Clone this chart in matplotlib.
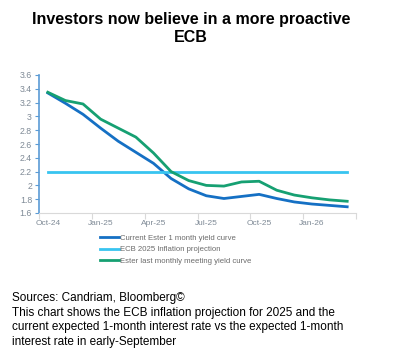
import numpy as np
import matplotlib.pyplot as plt
from matplotlib.ticker import FuncFormatter

plt.rcParams['font.family'] = ['Liberation Sans', 'DejaVu Sans']

# monthly points, Oct-24 .. Mar-26
months = ['Oct-24', 'Nov-24', 'Dec-24', 'Jan-25', 'Feb-25', 'Mar-25',
          'Apr-25', 'May-25', 'Jun-25', 'Jul-25', 'Aug-25', 'Sep-25',
          'Oct-25', 'Nov-25', 'Dec-25', 'Jan-26', 'Feb-26', 'Mar-26']
current_curve = [3.34, 3.19, 3.03, 2.83, 2.64, 2.48, 2.32, 2.10, 1.95,
                 1.85, 1.81, 1.84, 1.87, 1.81, 1.76, 1.73, 1.71, 1.69]
ecb_projection = [2.2] * len(months)
last_meeting_curve = [3.35, 3.23, 3.18, 2.96, 2.83, 2.70, 2.47, 2.20, 2.07,
                      2.00, 1.99, 2.05, 2.06, 1.93, 1.86, 1.82, 1.79, 1.77]
label_months = ['Oct-24', 'Jan-25', 'Apr-25', 'Jul-25', 'Oct-25', 'Jan-26']

BLUE = '#1570c4'
CYAN = '#38c4f0'
GREEN = '#16a072'
TICK_GREY = '#7f8a96'

fig = plt.figure(figsize=(3.98, 3.57), dpi=100)
ax = fig.add_axes([39 / 398, 1 - 213 / 357, 317 / 398, 138 / 357])

x = np.arange(len(months))
ax.plot(x, current_curve, color=BLUE, lw=2.0, label='Current Ester 1 month yield curve')
ax.plot(x, ecb_projection, color=CYAN, lw=2.0, label='ECB 2025 Inflation projection')
ax.plot(x, last_meeting_curve, color=GREEN, lw=2.0, label='Ester last monthly meeting yield curve')

ax.set_xlim(-0.5, len(months) - 0.5)
ax.set_ylim(1.6, 3.6)
ax.set_yticks(np.arange(1.6, 3.61, 0.2))
ax.yaxis.set_major_formatter(FuncFormatter(lambda v, p: f'{v:g}' if abs(v - round(v)) > 1e-6 else f'{int(round(v))}'))

# tick marks at quarter boundaries, labels centred on month
ax.set_xticks(np.arange(-0.5, len(months), 3))
ax.set_xticklabels([])
ax.set_xticks([months.index(m) for m in label_months], minor=True)
ax.set_xticklabels(label_months, minor=True)
ax.tick_params(axis='x', which='major', length=4, color='#d9d9d9', width=0.8)
ax.tick_params(axis='x', which='minor', length=0, pad=5, labelsize=6, labelcolor=TICK_GREY)
ax.tick_params(axis='y', length=3, color='#5b9bd5', width=0.8, labelsize=6.3,
               labelcolor=TICK_GREY, pad=2)

for side in ['top', 'right']:
    ax.spines[side].set_visible(False)
ax.spines['left'].set_color('#5b9bd5')
ax.spines['left'].set_linewidth(1.2)
ax.spines['bottom'].set_color('#d9d9d9')
ax.spines['bottom'].set_linewidth(0.8)

leg = fig.legend(loc='upper left', bbox_to_anchor=(97 / 398, 1 - 231 / 357),
                 frameon=False, fontsize=5.6, handlelength=2.4, handletextpad=0.15,
                 labelspacing=0.55, borderaxespad=0)
for t in leg.get_texts():
    t.set_color('#6b6b6b')

fig.text(191 / 398, 1 - 28.5 / 357, 'Investors now believe in a more proactive\nECB',
         ha='center', va='center', fontsize=11.5, fontweight='bold', linespacing=1.18)

fig.text(12 / 398, 1 - 292 / 357,
         'Sources: Candriam, Bloomberg©\n'
         'This chart shows the ECB inflation projection for 2025 and the\n'
         'current expected 1-month interest rate vs the expected 1-month\n'
         'interest rate in early-September',
         ha='left', va='top', fontsize=8.45, linespacing=1.3)

fig.savefig('out.png', dpi=100)
